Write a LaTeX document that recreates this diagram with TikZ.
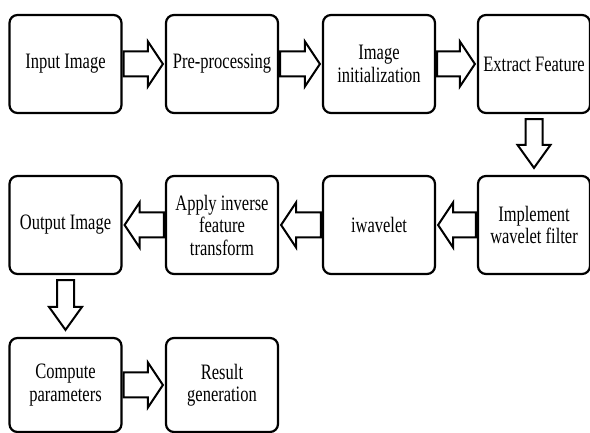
\documentclass[tikz,border=0pt]{standalone}
\usepackage{fontspec}
\setmainfont{Liberation Serif}[FakeStretch=0.75]
\usetikzlibrary{calc}

\tikzset{
	stage/.style={draw, line width=2.2pt, rounded corners=8pt, minimum width=112pt, minimum height=98pt, inner sep=0pt, align=center, font=\fontsize{22}{22.5}\selectfont},
	blockarrow/.style={draw, line width=2pt, line join=miter, fill=white}
}

% block arrows between two stages
\newcommand{\rightblock}[2]{\draw [blockarrow] let \p1=(#1.east), \p2=(#2.west) in
	(\x1+1pt, \y1+12.5pt) -- (\x2-17pt, \y1+12.5pt) -- (\x2-17pt, \y1+22.5pt) -- (\x2-2pt, \y1) -- (\x2-17pt, \y1-22.5pt) -- (\x2-17pt, \y1-12.5pt) -- (\x1+1pt, \y1-12.5pt) -- cycle;}
\newcommand{\leftblock}[2]{\draw [blockarrow] let \p1=(#1.west), \p2=(#2.east) in
	(\x1-1pt, \y1+12.5pt) -- (\x2+17pt, \y1+12.5pt) -- (\x2+17pt, \y1+22.5pt) -- (\x2+2pt, \y1) -- (\x2+17pt, \y1-22.5pt) -- (\x2+17pt, \y1-12.5pt) -- (\x1-1pt, \y1-12.5pt) -- cycle;}
\newcommand{\downblock}[2]{\draw [blockarrow] let \p1=(#1.south), \p2=(#2.north) in
	(\x1-8.5pt, \y1-5pt) -- (\x1-8.5pt, \y2+30pt) -- (\x1-16.5pt, \y2+30pt) -- (\x1, \y2+7pt) -- (\x1+16.5pt, \y2+30pt) -- (\x1+8.5pt, \y2+30pt) -- (\x1+8.5pt, \y1-5pt) -- cycle;}

\begin{document}
\begin{tikzpicture}[x=1pt, y=1pt]
	\useasboundingbox (0,0) rectangle (590,433);
	\clip (0,0) rectangle (590,433);

	% first row
	\node [stage] (input) at (65.5,369) {Input Image};
	\node [stage] (pre) at (222,369) {Pre-processing};
	\node [stage] (init) at (379,369) {Image\\initialization};
	\node [stage] (extract) at (534,369) {Extract Feature};

	% second row
	\node [stage] (output) at (65.5,208) {Output Image};
	\node [stage] (inverse) at (222,208) {Apply inverse\\feature\\transform};
	\node [stage] (iwave) at (379,208) {iwavelet};
	\node [stage] (filter) at (534,208) {Implement\\wavelet filter};

	% third row
	\node [stage, minimum height=94pt] (compute) at (65.5,48) {Compute\\parameters};
	\node [stage, minimum height=94pt] (result) at (222,48) {Result\\generation};

	\rightblock{input}{pre}
	\rightblock{pre}{init}
	\rightblock{init}{extract}
	\downblock{extract}{filter}
	\leftblock{filter}{iwave}
	\leftblock{iwave}{inverse}
	\leftblock{inverse}{output}
	\downblock{output}{compute}
	\rightblock{compute}{result}
\end{tikzpicture}
\end{document}
